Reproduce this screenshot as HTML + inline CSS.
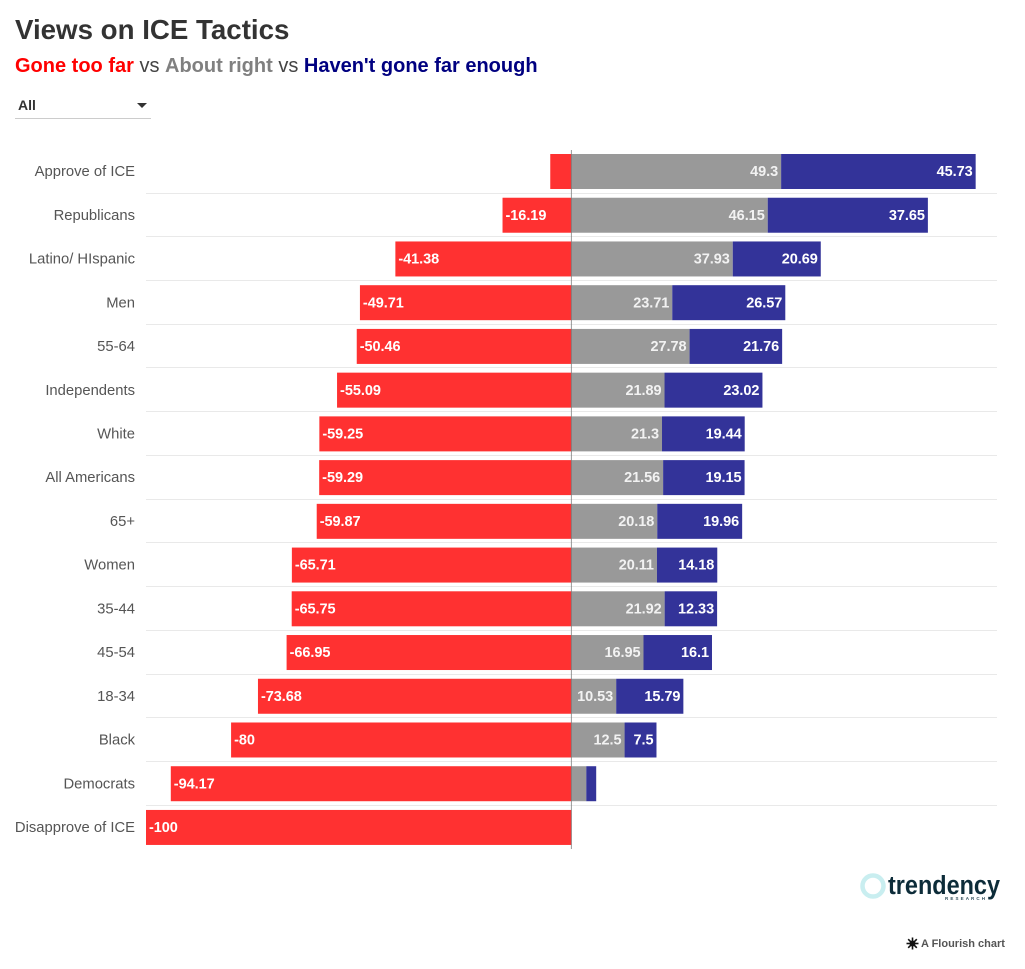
<!DOCTYPE html>
<html>
<head>
<meta charset="utf-8">
<title>Views on ICE Tactics</title>
<style>
html,body{margin:0;padding:0;background:#fff;}
body{width:1025px;height:969px;position:relative;overflow:hidden;font-family:"Liberation Sans",sans-serif;}
.abs{position:absolute;white-space:nowrap;}
</style>
</head>
<body>
<div class="abs" style="left:15px;top:13px;font-size:27.7px;line-height:34px;font-weight:bold;color:#333;">Views on ICE Tactics</div>
<div class="abs" style="left:15px;top:52.5px;font-size:20px;line-height:26px;color:#444;">
<b style="color:#ff0000">Gone too far</b> vs <b style="color:#808080">About right</b> vs <b style="color:#000080">Haven't gone far enough</b></div>
<div class="abs" style="left:15px;top:94px;width:136px;height:24px;border-bottom:1px solid #ccc;">
  <span style="position:absolute;left:3px;top:2px;font-size:14px;line-height:18px;font-weight:bold;color:#333;">All</span>
  <span style="position:absolute;left:122px;top:9px;width:0;height:0;border-left:5px solid transparent;border-right:5px solid transparent;border-top:5px solid #333;"></span>
</div>
<svg id="chart" class="abs" style="left:0;top:0" width="1025" height="969" xmlns="http://www.w3.org/2000/svg"></svg>
<svg class="abs" style="left:855px;top:868px" width="150" height="36" xmlns="http://www.w3.org/2000/svg">
  <circle cx="18" cy="18" r="10.5" fill="none" stroke="#c9eef0" stroke-width="4.5"/>
  <text x="33" y="26" font-family="Liberation Sans, sans-serif" font-size="25.5" font-weight="bold" fill="#0d2c39" textLength="112" lengthAdjust="spacingAndGlyphs">trendency</text>
  <text x="90" y="32" font-family="Liberation Sans, sans-serif" font-size="4.5" font-weight="bold" fill="#33505c" textLength="40">RESEARCH</text>
</svg>
<svg class="abs" style="left:906px;top:936.5px" width="13" height="13" viewBox="0 0 13 13" xmlns="http://www.w3.org/2000/svg">
  <g stroke="#111" stroke-width="1.6"><line x1="6.5" y1="0.5" x2="6.5" y2="12.5"/><line x1="0.5" y1="6.5" x2="12.5" y2="6.5"/><line x1="2.2" y1="2.2" x2="10.8" y2="10.8"/><line x1="10.8" y1="2.2" x2="2.2" y2="10.8"/></g>
  <circle cx="6.5" cy="6.5" r="3" fill="#111"/>
</svg>
<div class="abs" style="left:921px;top:936.5px;font-size:11px;line-height:14px;font-weight:bold;color:#555;">A Flourish chart</div>
<script>
var categories = ["Approve of ICE","Republicans","Latino/ HIspanic","Men","55-64","Independents","White","All Americans","65+","Women","35-44","45-54","18-34","Black","Democrats","Disapprove of ICE"];
var goneTooFar = [-4.97,-16.19,-41.38,-49.71,-50.46,-55.09,-59.25,-59.29,-59.87,-65.71,-65.75,-66.95,-73.68,-80,-94.17,-100];
var aboutRight = [49.3,46.15,37.93,23.71,27.78,21.89,21.3,21.56,20.18,20.11,21.92,16.95,10.53,12.5,3.5,0];
var notFarEnough = [45.73,37.65,20.69,26.57,21.76,23.02,19.44,19.15,19.96,14.18,12.33,16.1,15.79,7.5,2.33,0];

var svg = document.getElementById('chart');
var NS = 'http://www.w3.org/2000/svg';
function xScale(v){ return 571.4 + v * 4.254; }
function rowTop(i){ return 154 + i * 43.73; }
var BAR_H = 35;
var MIN_LABEL_UNITS = 6;

function make(tag, attrs){
  var el = document.createElementNS(NS, tag);
  for (var k in attrs) el.setAttribute(k, attrs[k]);
  svg.appendChild(el);
  return el;
}
function drawBar(x0, x1, y, fill){
  var el = make('rect', {x: Math.min(x0, x1), y: y, width: Math.abs(x1 - x0), height: BAR_H, fill: fill});
  
  return el;
}
function drawValue(x, y, anchor, value, fill){
  var el = make('text', {x: x, y: y + BAR_H / 2 + 4.6, 'text-anchor': anchor, 'font-size': '14.5', 'font-weight': 'bold', fill: fill, 'font-family': 'Liberation Sans, sans-serif', 'letter-spacing': '-0.05'});
  el.textContent = String(value);
  
  return el;
}

categories.forEach(function(cat, i){
  var y = rowTop(i);
  var label = make('text', {x: 135, y: y + BAR_H / 2 + 4.6, 'text-anchor': 'end', 'font-size': '14.8', fill: '#555', 'font-family': 'Liberation Sans, sans-serif'});
  label.textContent = cat;
  
  

  if (i < categories.length - 1) {
    var gy = Math.floor(y + BAR_H + 4) + 0.5;
    var grid = make('line', {x1: 146, x2: 997, y1: gy, y2: gy, stroke: '#e9e9e9', 'stroke-width': 1});
    
    
  }

  var red = drawBar(xScale(goneTooFar[i]), xScale(0), y, '#ff3131');
  
  var gray = drawBar(xScale(0), xScale(aboutRight[i]), y, '#999999');
  
  var blue = drawBar(xScale(aboutRight[i]), xScale(aboutRight[i] + notFarEnough[i]), y, '#333399');
  

  if (Math.abs(goneTooFar[i]) >= MIN_LABEL_UNITS) {
    var t1 = drawValue(xScale(goneTooFar[i]) + 3, y, 'start', goneTooFar[i], '#fff');
    
  }
  if (aboutRight[i] >= MIN_LABEL_UNITS) {
    var t2 = drawValue(xScale(aboutRight[i]) - 3, y, 'end', aboutRight[i], '#f2f2f2');
    
  }
  if (notFarEnough[i] >= MIN_LABEL_UNITS) {
    var t3 = drawValue(xScale(aboutRight[i] + notFarEnough[i]) - 3, y, 'end', notFarEnough[i], '#fff');
    
  }
});

var axis = make('line', {x1: xScale(0), x2: xScale(0), y1: 150, y2: 849, stroke: '#777', 'stroke-opacity': 0.75, 'stroke-width': 1});


</script>
</body>
</html>
